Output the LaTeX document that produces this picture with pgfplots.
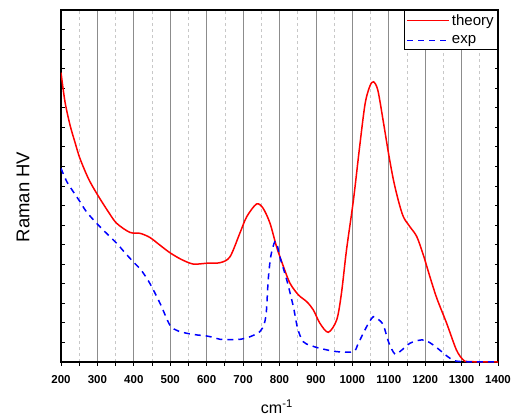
\documentclass[border=0pt]{standalone}
\usepackage{fontspec}
\setmainfont{Liberation Sans}
\usepackage{pgfplots}
\pgfplotsset{compat=1.18}
\definecolor{majgrid}{RGB}{140,140,140}
\definecolor{mingrid}{RGB}{200,200,200}
\begin{document}
\begin{tikzpicture}
\begin{axis}[
  at={(61pt,54pt)}, anchor=south west,
  scale only axis, width=437pt, height=352pt,
  xmin=200, xmax=1400, ymin=0, ymax=18,
  xtick={200,300,...,1400},
  minor xtick={250,350,...,1350},
  ytick={1,...,17}, yticklabels={},
  xtick pos=bottom, ytick pos=both,
  xtick align=outside, ytick align=inside,
  major tick length=3.5pt, minor tick length=3.5pt,
  every tick/.style={black, line width=0.8pt},
  xmajorgrids, xminorgrids,
  major grid style={majgrid, line width=0.8pt},
  minor grid style={mingrid, dashed, line width=0.6pt},
  axis line style={line width=1.2pt},
  /pgf/number format/assume math mode=true,
  xticklabel style={font=\fontsize{11.5}{11.5}\selectfont\bfseries, yshift=-6pt},
  xticklabel={\pgfmathprintnumber[fixed,1000 sep={}]{\tick}},
  xlabel={cm\textsuperscript{-1}},
  xlabel style={font=\fontsize{16}{16}\selectfont, at={(axis description cs:0.494,0)}, anchor=center, yshift=-45pt},
  ylabel={Raman HV},
  ylabel style={font=\fontsize{18.5}{18.5}\selectfont, at={(axis description cs:-0.087,0.469)}, anchor=center},
  legend style={at={(1,1)}, anchor=north east, draw=black, line width=0.8pt,
    font=\fontsize{15}{15}\selectfont, inner sep=2pt, row sep=5pt, legend cell align=left},
  legend image code/.code={\draw[#1] (0pt,0pt) -- (42pt,0pt);},
]
\addplot[red, line width=1.5pt, smooth, tension=0.5] coordinates {
(200,14.8) (211,13.3) (225,12.1) (238,11.26) (252,10.41) (275,9.39) (298,8.62)
(330,7.68) (353,7.09) (389,6.63) (417,6.58) (444,6.37) (470,6.0) (499,5.59)
(530,5.25) (563,5.01) (600,5.05) (637,5.08) (664,5.38) (691,6.58) (710,7.43)
(737,8.08) (755,7.86) (774,7.09) (792,5.89) (811,4.87) (829,4.02) (852,3.43)
(875,3.08) (893,2.66) (911,1.98) (934,1.52) (957,2.15) (970,3.5) (984,5.73)
(1003,8.28) (1020,11.0) (1035,13.2) (1048,14.1) (1058,14.33) (1070,13.9)
(1085,12.3) (1100,10.6) (1113,9.3) (1126,8.28) (1140,7.43) (1158,6.92)
(1177,6.41) (1195,5.47) (1213,4.36) (1232,3.26) (1259,1.98) (1286,0.61)
(1305,0.1) (1320,0.02) (1400,0)
};
\addlegendentry{theory}
\addplot[blue, line width=1.5pt, dash pattern=on 6pt off 5pt, smooth, tension=0.5] coordinates {
(200,9.9) (216,9.22) (234,8.7) (252,8.2) (270,7.68) (298,7.09) (325,6.58)
(353,6.07) (375,5.6) (398,5.13) (420,4.7) (444,4.02) (472,3.0) (499,1.89)
(520,1.6) (545,1.47) (575,1.38) (600,1.33) (620,1.25) (637,1.16) (665,1.15)
(692,1.16) (720,1.3) (746,1.55) (758,1.95) (764,2.6) (769,4.19) (776,5.4)
(787,6.15) (794,5.95) (801,5.38) (820,4.19) (838,2.83) (850,1.7) (865,1.04)
(885,0.85) (911,0.7) (957,0.53) (1003,0.53) (1015,0.9) (1030,1.47) (1045,2.0)
(1058,2.32) (1070,2.2) (1085,1.89) (1100,1.0) (1117,0.41) (1135,0.6)
(1158,0.96) (1180,1.1) (1199,1.12) (1220,0.9) (1240,0.61) (1260,0.3)
(1277,0.1) (1300,0.02) (1400,0)
};
\addlegendentry{exp}
\end{axis}
\pgfresetboundingbox
\path (0pt,0pt) rectangle (514pt,416pt);
\end{tikzpicture}
\end{document}
